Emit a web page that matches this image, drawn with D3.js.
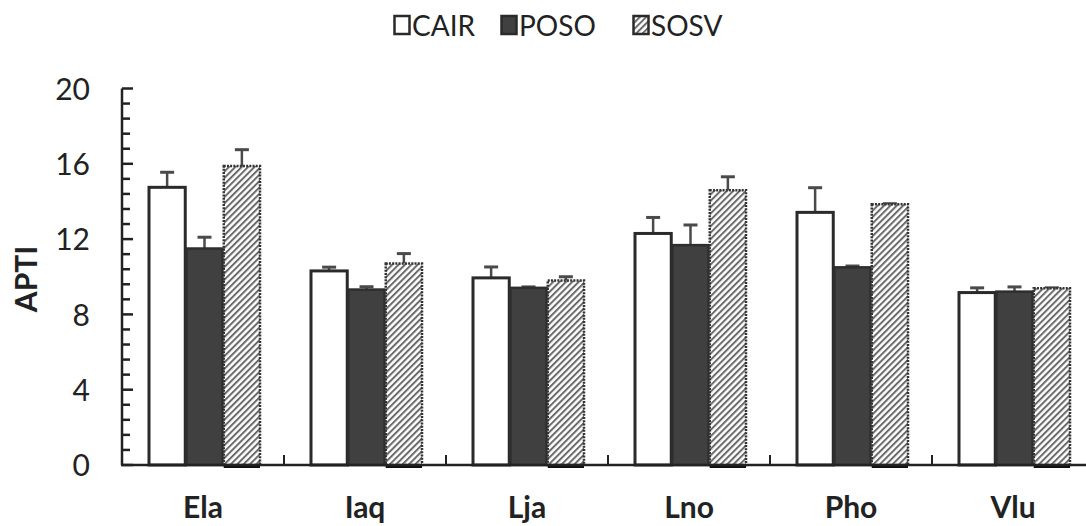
<!DOCTYPE html>
<html><head><meta charset="utf-8">
<script src="https://cdn.jsdelivr.net/npm/d3@7"></script>
<style>
html,body{margin:0;padding:0;background:#fff;}
svg{display:block;}
text{font-family:Lato, "Open Sans", sans-serif;fill:#222;}
</style></head>
<body>
<svg id="c" width="1086" height="526"></svg>
<script>
const categories = ["Ela","Iaq","Lja","Lno","Pho","Vlu"];
const seriesNames = ["CAIR","POSO","SOSV"];
const cairValues = [14.75, 10.31, 9.94, 12.30, 13.42, 9.16];
const cairErrors = [0.80, 0.20, 0.58, 0.85, 1.31, 0.25];
const posoValues = [11.50, 9.32, 9.41, 11.68, 10.50, 9.21];
const posoErrors = [0.60, 0.15, 0.05, 1.07, 0.07, 0.25];
const sosvValues = [15.88, 10.70, 9.80, 14.60, 13.85, 9.39];
const sosvErrors = [0.87, 0.53, 0.20, 0.71, 0.03, 0.02];
const yTickValues = [0, 4, 8, 12, 16, 20];
const yAxisTitle = "APTI";

const svg = d3.select("#c");
const defs = svg.append("defs");
const pat = defs.append("pattern").attr("id","hatch").attr("patternUnits","userSpaceOnUse")
  .attr("width",4.5).attr("height",4.5).attr("patternTransform","rotate(45)");
pat.append("rect").attr("width",4.5).attr("height",4.5).attr("fill","#fff");
pat.append("rect").attr("x",0).attr("width",2).attr("height",4.5).attr("fill","#6a6a6a");

const x0 = 122, baseY = 465;
const x = d3.scaleBand().domain(categories).range([x0, x0 + 162*6]).padding(0);
const y = d3.scaleLinear().domain([0,20]).range([baseY, 88.5]);
const xs = d3.scaleBand().domain(seriesNames).range([27, 138]).paddingInner(0.03);

const series = [
  {name:"CAIR", values:cairValues, errors:cairErrors},
  {name:"POSO", values:posoValues, errors:posoErrors},
  {name:"SOSV", values:sosvValues, errors:sosvErrors}
];
const style = {
  CAIR:{fill:"#fff", stroke:"#2a2a2a"},
  POSO:{fill:"#404040", stroke:"#2e2e2e"},
  SOSV:{fill:"url(#hatch)", stroke:"#333"}
};

// Bars
series.forEach(s => {
  const g = svg.append("g");
  const data = categories.map((c,i)=>({c, v:s.values[i], e:s.errors[i]}));
  // error bars
  g.selectAll("line.err").data(data).join("line")
    .attr("x1", d => x(d.c)+xs(s.name)+xs.bandwidth()/2)
    .attr("x2", d => x(d.c)+xs(s.name)+xs.bandwidth()/2)
    .attr("y1", d => y(d.v)).attr("y2", d => y(d.v+d.e))
    .attr("stroke","#4a4a4a").attr("stroke-width",2.5);
  g.selectAll("line.cap").data(data).join("line")
    .attr("x1", d => x(d.c)+xs(s.name)+xs.bandwidth()/2-7)
    .attr("x2", d => x(d.c)+xs(s.name)+xs.bandwidth()/2+7)
    .attr("y1", d => y(d.v+d.e)).attr("y2", d => y(d.v+d.e))
    .attr("stroke","#4a4a4a").attr("stroke-width",3);
  g.selectAll("rect").data(data).join("rect")
    .attr("x", d => x(d.c)+xs(s.name))
    .attr("y", d => y(d.v))
    .attr("width", xs.bandwidth())
    .attr("height", d => y(0)-y(d.v))
    .attr("fill", style[s.name].fill)
    .attr("stroke", style[s.name].stroke)
    .attr("stroke-width", s.name==="CAIR"?3:2.5)
    .attr("stroke-dasharray", s.name==="SOSV" ? "2,1.2" : null);
  if (s.name==="SOSV") {
    g.selectAll("line.base").data(data).join("line")
      .attr("x1", d => x(d.c)+xs(s.name)).attr("x2", d => x(d.c)+xs(s.name)+xs.bandwidth())
      .attr("y1", baseY+1).attr("y2", baseY+1).attr("stroke","#111").attr("stroke-width",4);
  }
});

// Y axis
const yMinor = d3.range(0, 20.001, 0.8);
const ya = svg.append("g").attr("transform",`translate(${x0},0)`);
ya.append("line").attr("x1",0).attr("x2",0).attr("y1",y(20)).attr("y2",baseY).attr("stroke","#222").attr("stroke-width",2.5);
ya.selectAll("line.mn").data(yMinor).join("line")
  .attr("x1",0).attr("x2",d => (Math.abs(d/4 - Math.round(d/4))<1e-6) ? 11 : 8)
  .attr("y1",d=>y(d)).attr("y2",d=>y(d)).attr("stroke","#222").attr("stroke-width",2.5);
const yAxis = d3.axisLeft(y).tickValues(yTickValues).tickSize(0).tickPadding(32).tickFormat(d3.format("d"));
const yg = svg.append("g").attr("transform",`translate(${x0},0)`).call(yAxis);
yg.select(".domain").remove();
yg.selectAll("text").style("font-size","30px").style("font-family","Lato, sans-serif").attr("fill","#222").attr("dy","0.36em");

// X axis
const xa = svg.append("g");
xa.append("line").attr("x1",x0-1).attr("x2",1086).attr("y1",baseY).attr("y2",baseY).attr("stroke","#222").attr("stroke-width",2.5);
const xAxis = d3.axisBottom(x).tickSize(0).tickPadding(32);
const xg = svg.append("g").attr("transform",`translate(0,${baseY})`).call(xAxis);
xg.select(".domain").remove();
xg.selectAll("text").style("font-size","30px").style("font-family","Lato, sans-serif").style("font-weight","bold").attr("fill","#2a2a2a");
xa.selectAll("line.t").data(categories.slice(1).concat(["_end"])).join("line")
  .attr("x1",(d,i)=>x(categories[i])+x.bandwidth()).attr("x2",(d,i)=>x(categories[i])+x.bandwidth())
  .attr("y1",baseY).attr("y2",baseY-10).attr("stroke","#222").attr("stroke-width",2);

// Y title
svg.append("text").attr("transform","translate(37,279) rotate(-90)").attr("text-anchor","middle")
  .style("font-size","30px").style("font-weight","bold").text(yAxisTitle);

// Legend
const legX = [393, 500, 632];
const lg = svg.append("g");
seriesNames.forEach((n,i)=>{
  lg.append("rect").attr("x",legX[i]+1.5).attr("y",16).attr("width",15).attr("height",18)
    .attr("fill",style[n].fill).attr("stroke","#2a2a2a").attr("stroke-width",2.5);
  lg.append("text").attr("x",legX[i]+19).attr("y",36).style("font-size","28px").text(n);
});
</script>
</body></html>
